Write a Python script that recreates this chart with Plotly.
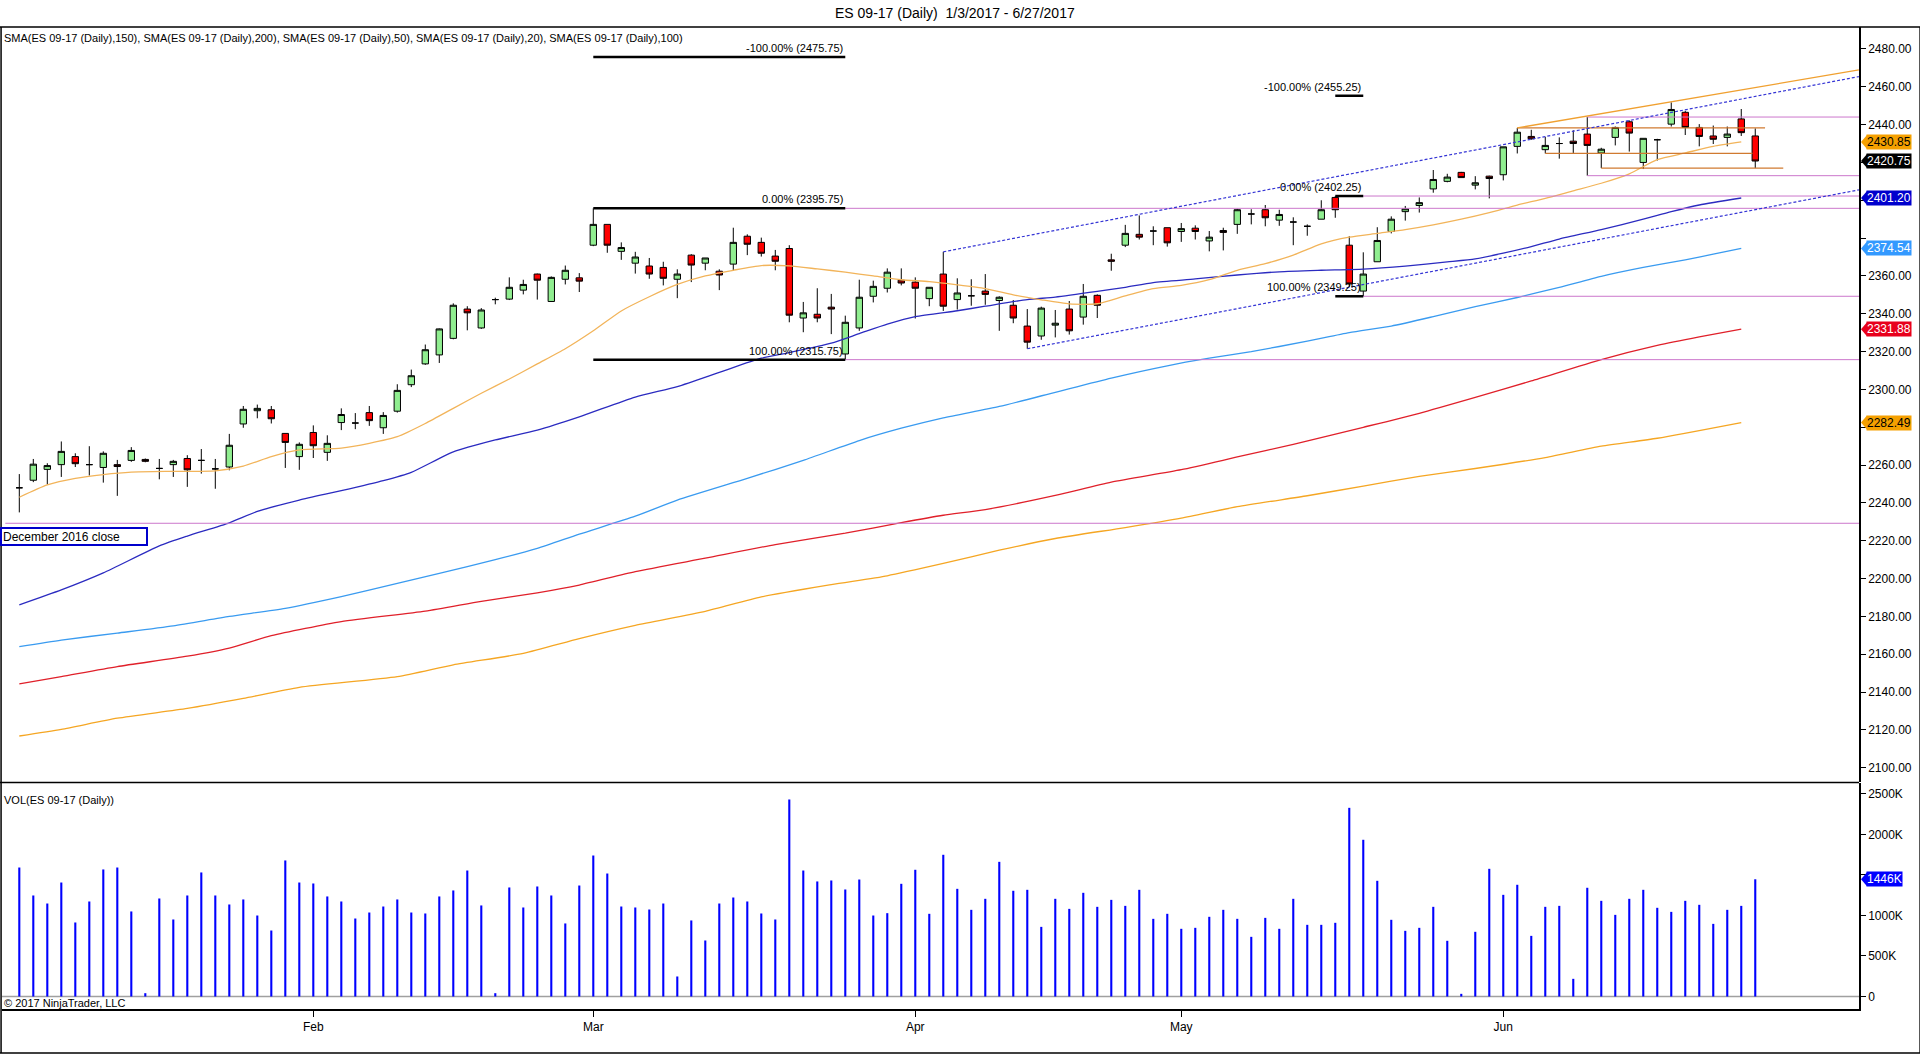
import plotly.graph_objects as go

# daily bars of ES 09-17, bar 0 = 3 Jan 2017
opens = [2248, 2252, 2257.75, 2260.25, 2264.5, 2260.25, 2258.75, 2260.25, 2262.5, 2263,
         2258.25, 2260.25, 2263.5, 2262.5, 2258, 2259, 2281.75, 2288.75, 2289.25, 2276.75,
         2264.5, 2277.25, 2266.75, 2282.5, 2282.25, 2287.75, 2279.75, 2288.5, 2302.5, 2313.5,
         2318.25, 2327, 2342.5, 2332.5, 2347.5, 2347.75, 2352.5, 2361, 2346.5, 2358.25,
         2359, 2376.25, 2387.25, 2373, 2366.75, 2365.25, 2364.5, 2358.25, 2371, 2366.75,
         2362.5, 2366.25, 2381, 2377.75, 2370.5, 2374.5, 2337.75, 2339.75, 2343.5, 2318.75,
         2332.5, 2349.25, 2353.5, 2357.75, 2356.75, 2348, 2361, 2347.5, 2349.5, 2352,
         2347, 2344.5, 2333.5, 2328.25, 2334, 2342.5, 2338.25, 2349.75, 2368.5, 2376.25,
         2382, 2383.75, 2385.5, 2383.5, 2385.25, 2378.5, 2384, 2387.25, 2392.75, 2395,
         2389.5, 2388.5, 2386.25, 2390, 2401.5, 2376.25, 2352, 2367.5, 2383.5, 2394,
         2397.25, 2406, 2410, 2414.75, 2408, 2412.75, 2413.5, 2428.5, 2433.75, 2426.75,
         2430, 2431.25, 2435, 2425, 2433.25, 2441.5, 2420, 2432, 2440.25, 2446.5,
         2438.5, 2434, 2433.25, 2443, 2434]
highs = [2255.25, 2263.25, 2261, 2272.5, 2266.25, 2270, 2267.25, 2262.75, 2269.5, 2263.5,
         2263.25, 2262.75, 2265.25, 2268.5, 2263.25, 2276.5, 2291.25, 2292, 2291.25, 2276.75,
         2272, 2281, 2275.75, 2290, 2287.5, 2291.25, 2288, 2302.75, 2310.5, 2323.75,
         2332.25, 2345.5, 2344, 2343, 2348.5, 2359.25, 2358, 2361.25, 2359.75, 2365.5,
         2361.5, 2395.75, 2387.25, 2377.75, 2372.75, 2369.5, 2367.5, 2363.5, 2371.5, 2369.5,
         2363.5, 2385.5, 2382, 2380.25, 2373.75, 2376.25, 2346.25, 2353.5, 2350.5, 2339,
         2358, 2357.5, 2364, 2364, 2359.25, 2354, 2372.75, 2358.75, 2358.25, 2361,
         2349.25, 2347.25, 2342.5, 2343.75, 2342, 2346.75, 2355.75, 2350.25, 2371.75, 2387,
         2392, 2386.25, 2385.5, 2388, 2386.75, 2383.75, 2385.5, 2395.5, 2395.25, 2397.5,
         2395, 2391, 2387.25, 2400, 2402.25, 2381, 2372.5, 2385.75, 2391.5, 2397,
         2401.5, 2416, 2414, 2415, 2412.75, 2413, 2428.25, 2438.25, 2437.25, 2433.5,
         2433.25, 2437, 2444, 2427.75, 2439, 2442.25, 2432.75, 2432.5, 2451.75, 2447.25,
         2440.25, 2439.5, 2439, 2448.25, 2438]
lows = [2235, 2251, 2249.75, 2253.75, 2259, 2254.5, 2250.75, 2243.75, 2261.75, 2261.5,
        2252.5, 2253.75, 2248.5, 2255.5, 2247.5, 2257.25, 2279.75, 2284.75, 2282, 2258.5,
        2257.5, 2263.75, 2262.25, 2278.5, 2279, 2280.75, 2276.5, 2287.75, 2301.25, 2313,
        2314, 2326.5, 2331.25, 2332, 2345, 2347.25, 2350.25, 2347.5, 2346.25, 2355.5,
        2351.5, 2375.75, 2372.25, 2368.5, 2361.25, 2358.5, 2355, 2348.25, 2356.75, 2363,
        2352.5, 2362.75, 2371, 2370.25, 2363, 2335.5, 2330.25, 2335.5, 2329.25, 2315.75,
        2331, 2346, 2351.25, 2355, 2337.5, 2344, 2341.5, 2342.25, 2344.25, 2344.75,
        2331, 2335, 2321.5, 2326.25, 2327.5, 2329, 2334.25, 2337.75, 2362.75, 2375.25,
        2379.25, 2376.25, 2375.5, 2378, 2379.25, 2373, 2373.5, 2382.25, 2387.25, 2386.25,
        2386.5, 2376.25, 2381.25, 2390, 2390.75, 2354.25, 2349.25, 2367.5, 2382.5, 2389.25,
        2393.5, 2404, 2409.5, 2412, 2405.75, 2401, 2410.5, 2424.75, 2432, 2424.75,
        2422, 2425, 2413, 2417, 2429, 2425.75, 2416.5, 2421, 2439, 2434.5,
        2428.5, 2429.75, 2428.5, 2434, 2417]
closes = [2248, 2260.5, 2259.75, 2267.25, 2260.75, 2260.25, 2266.25, 2259.25, 2267.75, 2262,
          2258.25, 2262, 2257.5, 2262.5, 2258, 2270.5, 2289.5, 2290, 2284.5, 2272,
          2271, 2270.25, 2271.5, 2286.75, 2282.25, 2283.5, 2286.25, 2299.5, 2307.25, 2321,
          2332, 2344.5, 2340.5, 2342, 2347.5, 2354, 2355.5, 2357.75, 2359.25, 2363,
          2357.25, 2387.25, 2376.25, 2375, 2370, 2361, 2358.75, 2361, 2365.75, 2369.5,
          2360.5, 2377.75, 2376.75, 2372, 2367.75, 2339.25, 2340.5, 2337.75, 2342.5, 2335.5,
          2348.75, 2354.5, 2362, 2356.25, 2353.5, 2354, 2344, 2351, 2349.5, 2350.25,
          2348.75, 2337.75, 2325, 2343, 2335, 2331, 2349.25, 2344.5, 2367.75, 2382.5,
          2380.5, 2383.75, 2377.5, 2385, 2383.5, 2380.5, 2383, 2395, 2392.75, 2390.75,
          2392.5, 2388.5, 2386.25, 2395, 2395, 2355.75, 2361, 2378.75, 2390, 2395.5,
          2398.75, 2411, 2412.25, 2412, 2409.25, 2411.5, 2428.25, 2436, 2432.5, 2429,
          2430, 2430, 2429, 2427, 2438.5, 2435.5, 2432.75, 2432, 2448, 2438.5,
          2433.75, 2432.25, 2435, 2435.75, 2420.75]
volume_k = [1591, 1246, 1147, 1406, 913, 1172, 1567, 1591, 1049, 41,
            1209, 950, 1246, 1530, 1246, 1135, 1197, 999, 814, 1678,
            1406, 1394, 1234, 1172, 962, 1036, 1110, 1197, 1036, 1024,
            1234, 1308, 1554, 1123, 41, 1345, 1098, 1357, 1246, 901,
            1369, 1739, 1517, 1110, 1098, 1073, 1147, 247, 938, 691,
            1147, 1221, 1172, 1024, 950, 2430, 1554, 1419, 1431, 1320,
            1443, 999, 1028, 1390, 1563, 1020, 1748, 1328, 1069, 1205,
            1661, 1304, 1316, 859, 1205, 1081, 1279, 1106, 1192, 1118,
            1316, 958, 1020, 835, 847, 983, 1069, 958, 736, 970,
            835, 1205, 884, 884, 909, 2327, 1933, 1427, 946, 810,
            847, 1106, 687, 33, 798, 1575, 1254, 1378, 748, 1106,
            1118, 218, 1341, 1180, 1007, 1205, 1316, 1094, 1044, 1180,
            1131, 896, 1069, 1118, 1446]
bars = list(range(len(closes)))

month_bars = [21, 41, 64, 83, 106]
month_names = ["Feb", "Mar", "Apr", "May", "Jun"]

price_ticks = list(range(2100, 2481, 20))
hidden_price_ticks = [2280, 2380, 2400, 2420]   # covered by the value boxes
vol_ticks = [0, 500, 1000, 1500, 2000, 2500]
vol_tick_text = ["0", "500K", "1000K", "", "2000K", "2500K"]

# moving averages (bar number, value)
sma20_bars = [0, 2, 4, 6, 8, 11, 14, 16, 18, 20, 23, 25, 27, 29, 31, 33, 35, 37, 39, 41,
              43, 45, 47, 49, 51, 53, 55, 57, 59, 61, 63, 65, 67, 69, 71, 73, 75, 77, 79, 81,
              83, 85, 87, 89, 91, 93, 95, 97, 99, 101, 103, 105, 107, 109, 111, 113, 115, 117,
              119, 121, 123]
sma20 = [2243, 2249.5, 2253, 2255, 2256.3, 2256.7, 2257, 2259.5, 2264.5, 2268, 2269, 2271.5,
         2275, 2282, 2290, 2298, 2305.5, 2313.5, 2321.5, 2331, 2341.5, 2349, 2355.5, 2360,
         2363, 2365.5, 2365.3, 2363.7, 2362, 2360, 2358, 2357, 2355.3, 2353.3, 2350, 2347.4,
         2345.2, 2345.3, 2349.5, 2353.3, 2355, 2358, 2363, 2366.5, 2371, 2377, 2380.5, 2382.5,
         2384.5, 2387, 2390, 2393.5, 2397.5, 2401, 2405, 2409, 2414, 2421.5, 2425, 2428.5,
         2430.85]
sma50_bars = [0, 3, 6, 10, 12, 15, 17, 20, 23, 26, 28, 31, 34, 37, 40, 44, 47, 50, 53, 55,
              58, 60, 62, 64, 67, 69, 72, 74, 77, 79, 81, 84, 87, 90, 93, 96, 99, 102, 104,
              106, 108, 110, 113, 116, 118, 120, 123]
sma50 = [2186.1, 2194, 2203, 2217.3, 2222.5, 2229.5, 2235.5, 2241.5, 2246.5, 2251.8, 2256.2,
         2267, 2273.3, 2278.5, 2285.5, 2296, 2301.5, 2309, 2316.5, 2319.5, 2324.5, 2329.5,
         2334.5, 2338.5, 2341.6, 2344, 2347.5, 2348.8, 2351.8, 2354, 2356.5, 2358.4, 2360.5,
         2362.2, 2363, 2363.6, 2365.2, 2367.4, 2369, 2372, 2375.5, 2379.5, 2384.5, 2390,
         2394, 2397.5, 2401.2]
sma100_bars = [0, 3, 7, 11, 15, 19, 23, 27, 30, 34, 37, 40, 44, 47, 52, 56, 60, 63, 66, 70,
               74, 78, 82, 85, 88, 92, 95, 98, 101, 104, 107, 110, 113, 116, 119, 121, 123]
sma100 = [2164, 2167.5, 2171.2, 2175, 2180, 2184.3, 2190.5, 2197.5, 2202.8, 2210, 2216,
          2223.5, 2233, 2241.5, 2253, 2262.5, 2273, 2279.5, 2285, 2291, 2298.5, 2306, 2312.5,
          2316.5, 2320, 2325.5, 2330, 2333.5, 2338.5, 2343.8, 2348.6, 2354, 2359.8, 2364.5,
          2368.5, 2371.5, 2374.54]
sma150_bars = [0, 3, 7, 12, 15, 18, 23, 29, 33, 37, 40, 44, 49, 54, 59, 63, 66, 69, 74, 78,
               83, 87, 91, 96, 100, 104, 108, 113, 117, 120, 123]
sma150 = [2144.3, 2148.2, 2153.5, 2159, 2163.3, 2169.8, 2177.3, 2182.8, 2188, 2192.5,
          2196.6, 2203.7, 2210.8, 2218, 2224, 2229.6, 2233.5, 2236.5, 2244, 2251, 2257.6,
          2264.3, 2271, 2280, 2287.4, 2295.8, 2304.5, 2315.8, 2323.3, 2327.8, 2331.88]
sma200_bars = [0, 3, 7, 12, 16, 20, 27, 31, 36, 40, 44, 49, 53, 58, 62, 66, 70, 74, 79, 83,
               87, 92, 96, 100, 104, 109, 113, 117, 123]
sma200 = [2116.8, 2120.3, 2126.2, 2131.4, 2136.7, 2142.5, 2148.2, 2154.4, 2160.5, 2168.3,
          2175.3, 2182.7, 2190.3, 2196.8, 2201.5, 2208, 2215, 2221.2, 2227, 2232, 2238,
          2243.8, 2248.9, 2254, 2258.2, 2264, 2270, 2274.2, 2282.49]

# drawn objects
fib1_bars = [41, 59]
fib1_levels = [2475.75, 2395.75, 2315.75]
fib2_bars = [94, 96]
fib2_levels = [2455.25, 2402.25, 2349.25]
fib_pcts = ["-100.00%", "0.00%", "100.00%"]
dec_close = 2229.25
jun_levels = [2444, 2413]
jun_start = 112
channel_upper = ([66, 131.4], [2372.75, 2465.4])
channel_lower = ([72, 131.4], [2321.5, 2405.5])
orange_channel = ([107, 131.4], [2438.25, 2468.9])
range_lines = [([107, 124.7], 2438.25), ([109, 123.8], 2424.75), ([113, 126], 2417)]

X_MAX = 131.41
FONT = "Arial, Liberation Sans, sans-serif"
PINK = "#CC77CC"

fig = go.Figure()

sma_specs = [
    (sma200_bars, sma200, "#F5A623"),
    (sma150_bars, sma150, "#E0202A"),
    (sma100_bars, sma100, "#3A9BF0"),
    (sma50_bars, sma50, "#2B2BC0"),
    (sma20_bars, sma20, "#F2B45A"),
]
for xs, ys, col in sma_specs:
    fig.add_trace(go.Scatter(x=xs, y=ys, mode="lines", line=dict(color=col, width=1.3, shape="spline", smoothing=0.6),
                             hoverinfo="skip", showlegend=False))

# horizontal and trend lines
def seg(x0, x1, y0, y1, color, width=1, dash="solid"):
    fig.add_trace(go.Scatter(x=[x0, x1], y=[y0, y1], mode="lines",
                             line=dict(color=color, width=width, dash=dash),
                             hoverinfo="skip", showlegend=False))

seg(-1, X_MAX, dec_close, dec_close, PINK)
for lvl in fib1_levels[1:]:
    seg(fib1_bars[1], X_MAX, lvl, lvl, PINK)
for lvl in fib2_levels[1:]:
    seg(fib2_bars[1], X_MAX, lvl, lvl, PINK)
for lvl in jun_levels:
    seg(jun_start, X_MAX, lvl, lvl, PINK)
for lvl in fib1_levels:
    seg(fib1_bars[0], fib1_bars[1], lvl, lvl, "black", 2.5)
for lvl in fib2_levels:
    seg(fib2_bars[0], fib2_bars[1], lvl, lvl, "black", 2.5)
for xs, lvl in range_lines:
    seg(xs[0], xs[1], lvl, lvl, "#D07A30", 1.2)
seg(channel_upper[0][0], channel_upper[0][1], channel_upper[1][0], channel_upper[1][1], "#3535D5", 1.2, "3px,2px")
seg(channel_lower[0][0], channel_lower[0][1], channel_lower[1][0], channel_lower[1][1], "#3535D5", 1.2, "3px,2px")
seg(orange_channel[0][0], orange_channel[0][1], orange_channel[1][0], orange_channel[1][1], "#F0A030", 1.3)

fig.add_trace(go.Candlestick(
    x=bars, open=opens, high=highs, low=lows, close=closes,
    increasing=dict(fillcolor="#90EE90", line=dict(color="black", width=1)),
    decreasing=dict(fillcolor="#FF0000", line=dict(color="black", width=1)),
    whiskerwidth=0, hoverinfo="skip", showlegend=False))

fig.add_trace(go.Bar(x=bars, y=volume_k, width=0.15, marker=dict(color="#0000FF", line=dict(width=0)),
                     yaxis="y2", hoverinfo="skip", showlegend=False))

ann = []
for pct, lvl in zip(fib_pcts, fib1_levels):
    ann.append(dict(x=fib1_bars[1], y=lvl, xref="x", yref="y", text=f"{pct} ({lvl:.2f})",
                    xanchor="right", yanchor="bottom", showarrow=False, yshift=1,
                    font=dict(size=11, color="black")))
for pct, lvl in zip(fib_pcts, fib2_levels):
    ann.append(dict(x=fib2_bars[1], y=lvl, xref="x", yref="y", text=f"{pct} ({lvl:.2f})",
                    xanchor="right", yanchor="bottom", showarrow=False, yshift=1,
                    font=dict(size=11, color="black")))

ann.append(dict(x=0.513, y=1.0143, xref="paper", yref="paper", showarrow=False,
                text="ES 09-17 (Daily)  1/3/2017 - 6/27/2017", font=dict(size=14, color="black"),
                xanchor="center", yanchor="middle"))
ann.append(dict(x=0.0, y=0.9885, xref="paper", yref="paper", showarrow=False, xanchor="left", yanchor="middle",
                text="SMA(ES 09-17 (Daily),150), SMA(ES 09-17 (Daily),200), SMA(ES 09-17 (Daily),50), "
                     "SMA(ES 09-17 (Daily),20), SMA(ES 09-17 (Daily),100)",
                font=dict(size=11, color="black")))
ann.append(dict(x=0.0, y=0.213, xref="paper", yref="paper", showarrow=False, xanchor="left", yanchor="middle",
                text="VOL(ES 09-17 (Daily))", font=dict(size=11, color="black")))
ann.append(dict(x=0.0, y=0.0061, xref="paper", yref="paper", showarrow=False, xanchor="left", yanchor="middle",
                text="© 2017 NinjaTrader, LLC", font=dict(size=11, color="black")))
ann.append(dict(x=-0.001, y=2222.4, xref="paper", yref="y", showarrow=False, xanchor="left", yanchor="middle",
                text="December 2016 close", font=dict(size=12, color="black"), align="left",
                bordercolor="#0000CC", borderwidth=2, bgcolor="white", width=142, height=13, borderpad=1))

axis_labels = [
    (sma20[-1], "#F5A000", "black"),
    (closes[-1], "black", "white"),
    (sma50[-1], "#0000CD", "white"),
    (sma100[-1], "#3399FF", "white"),
    (sma150[-1], "#E8001C", "white"),
    (sma200[-1], "#F5A000", "black"),
]
shapes = []
for val, bg, fg in axis_labels:
    ann.append(dict(x=1, y=val, xref="paper", yref="y", showarrow=False, xanchor="left", yanchor="middle",
                    xshift=7, text=f"{val:.2f}", bgcolor=bg, font=dict(size=12, color=fg), borderpad=0))
    shapes.append(dict(type="path", xref="paper", yref="y", xsizemode="pixel", ysizemode="pixel",
                       xanchor=1, yanchor=val, path="M 2,0 L 8,7 L 8,-7 Z",
                       fillcolor=bg, line=dict(width=0)))
ann.append(dict(x=1, y=volume_k[-1], xref="paper", yref="y2", showarrow=False, xanchor="left", yanchor="middle",
                xshift=7, text=f"{volume_k[-1]}K", bgcolor="#0000FF", font=dict(size=12, color="white"), borderpad=0))
shapes.append(dict(type="path", xref="paper", yref="y2", xsizemode="pixel", ysizemode="pixel",
                   xanchor=1, yanchor=volume_k[-1], path="M 2,0 L 8,7 L 8,-7 Z",
                   fillcolor="#0000FF", line=dict(width=0)))

# frame, panel separator and volume zero line
frame = dict(color="black", width=1.5)
shapes += [
    dict(type="line", xref="paper", yref="paper", x0=-0.0011, x1=1.0329, y0=1, y1=1, line=frame),
    dict(type="line", xref="paper", yref="paper", x0=-0.0011, x1=1.0329, y0=-0.0448, y1=-0.0448, line=frame),
    dict(type="line", xref="paper", yref="paper", x0=-0.0005, x1=-0.0005, y0=-0.0448, y1=1, line=frame),
    dict(type="line", xref="paper", yref="paper", x0=1.0329, x1=1.0329, y0=-0.0448, y1=1, line=frame),
    dict(type="line", xref="paper", yref="paper", x0=-0.0011, x1=1, y0=0.2307, y1=0.2307, line=frame),
    dict(type="line", xref="paper", yref="y2", x0=0, x1=1, y0=0, y1=0, line=dict(color="#A0A0A0", width=1.5),
         layer="below"),
]

price_tick_text = ["" if t in hidden_price_ticks else f"{t:.2f}" for t in price_ticks]

fig.update_layout(
    width=1920, height=1055,
    margin=dict(l=2, r=61, t=27, b=46),
    paper_bgcolor="white", plot_bgcolor="white",
    font=dict(family=FONT, color="black"),
    showlegend=False, boxgap=0.35,
    annotations=ann, shapes=shapes,
    xaxis=dict(range=[-1.236, X_MAX], anchor="y2", showgrid=False, zeroline=False,
               tickvals=month_bars, ticktext=month_names, ticks="outside", ticklen=6,
               tickcolor="black", showline=True, linecolor="black", linewidth=1.5,
               rangeslider=dict(visible=False), tickfont=dict(size=12)),
    yaxis=dict(domain=[0.2312, 1], range=[2092.5, 2491.6], side="right", showgrid=False,
               zeroline=False, tickvals=price_ticks, ticktext=price_tick_text,
               ticks="outside", ticklen=5, tickcolor="black", showline=True, linecolor="black",
               linewidth=1.5, tickfont=dict(size=12)),
    yaxis2=dict(domain=[0, 0.2302], range=[-154, 2634], side="right", anchor="x", showgrid=False,
                zeroline=False, tickvals=vol_ticks, ticktext=vol_tick_text,
                ticks="outside", ticklen=5, tickcolor="black", showline=True, linecolor="black",
                linewidth=1.5, tickfont=dict(size=12)),
)

fig.write_html("out.html", config={"displayModeBar": False},
               post_script="document.body.style.margin='0';document.body.style.overflow='hidden';")
